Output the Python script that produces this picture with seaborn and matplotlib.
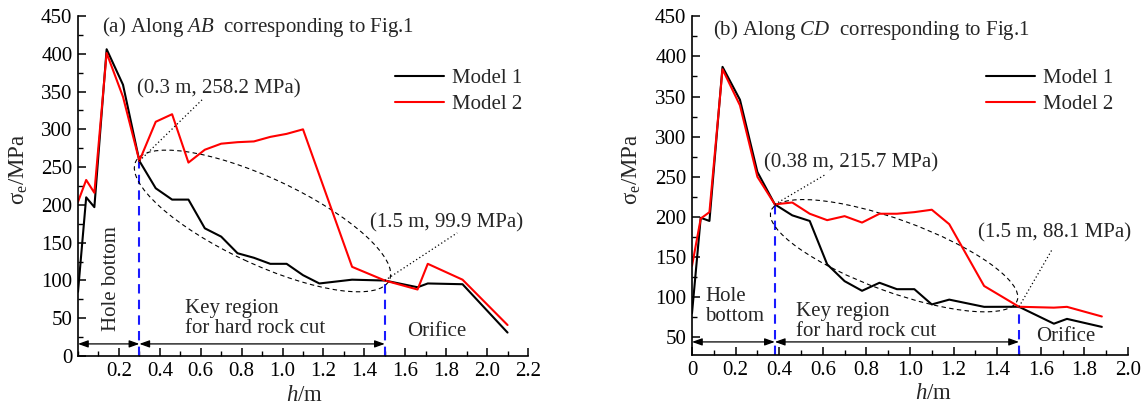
import numpy as np
import pandas as pd
import matplotlib
matplotlib.use("Agg")
import matplotlib.pyplot as plt
import matplotlib.transforms as mtransforms
from matplotlib.patches import Ellipse
from matplotlib.ticker import MultipleLocator, FuncFormatter
import seaborn as sns

# ---- (a) equivalent stress along AB ----
h_ab_m1 = [0, 0.04, 0.08, 0.14, 0.22, 0.30, 0.38, 0.46, 0.54, 0.62, 0.70, 0.78,
           0.86, 0.94, 1.02, 1.10, 1.18, 1.34, 1.50, 1.66, 1.71, 1.88, 2.10]
s_ab_m1 = [85, 210, 197, 406, 359, 258.2, 222, 207, 207, 169, 158, 136,
           130, 122, 122, 107, 96, 101, 99.9, 91, 96, 95, 31]
h_ab_m2 = [0, 0.04, 0.08, 0.14, 0.22, 0.30, 0.38, 0.46, 0.54, 0.62, 0.70, 0.78,
           0.86, 0.94, 1.02, 1.10, 1.34, 1.50, 1.66, 1.71, 1.88, 2.10]
s_ab_m2 = [204, 233, 216, 401, 343, 258.2, 310, 320, 256, 273, 281, 283,
           284, 290, 294, 300, 118, 99.9, 88, 122, 101, 41]

# ---- (b) equivalent stress along CD ----
h_cd = [0, 0.04, 0.08, 0.14, 0.22, 0.30, 0.38, 0.46, 0.54, 0.62, 0.70, 0.78,
        0.86, 0.94, 1.02, 1.10, 1.18, 1.34, 1.50, 1.66, 1.72, 1.88]
s_cd_m1 = [80, 199, 195, 387, 346, 256, 215.7, 202, 195, 141, 120, 108,
           118, 110, 110, 91, 97, 88, 88.1, 67, 73, 63]
s_cd_m2 = [139, 198, 206, 384, 339, 250, 215.7, 218, 204, 196, 201, 193,
           204, 204, 206, 209, 191, 114, 88.1, 87, 88, 76]

models = ["Model 1", "Model 2"]
model_colors = {"Model 1": "#000000", "Model 2": "#ff0000"}

# key points (h, stress) marked on each profile
key_ab = [(0.30, 258.2), (1.50, 99.9)]
key_cd = [(0.38, 215.7), (1.50, 88.1)]

sns.set_theme(style="ticks")
plt.rcParams.update({
    "font.family": ["Liberation Serif", "DejaVu Serif"],
    "mathtext.fontset": "custom",
    "mathtext.rm": "Liberation Serif",
    "mathtext.it": "Liberation Serif:italic",
    "mathtext.bf": "Liberation Serif:bold",
    "axes.linewidth": 1.2,
    "axes.edgecolor": "black",
    "xtick.color": "black",
    "ytick.color": "black",
})

FS = 15
FS_LABEL = 16.5

df_ab = pd.concat([
    pd.DataFrame({"h": h_ab_m1, "s": s_ab_m1, "model": models[0]}),
    pd.DataFrame({"h": h_ab_m2, "s": s_ab_m2, "model": models[1]}),
])
df_cd = pd.concat([
    pd.DataFrame({"h": h_cd, "s": s_cd_m1, "model": models[0]}),
    pd.DataFrame({"h": h_cd, "s": s_cd_m2, "model": models[1]}),
])

W, H = 1148, 405
fig = plt.figure(figsize=(W / 100, H / 100), dpi=100)
ax1 = fig.add_axes([78 / W, 1 - 356 / H, 450 / W, 340 / H])
ax2 = fig.add_axes([692 / W, 1 - 355 / H, 436 / W, 338.7 / H])


def fmt_h(v, pos):
    return "0" if abs(v) < 1e-9 else f"{v:.1f}"


def style_axes(ax, xlim, ylim, xticks, yticks, xlabel_x, ylabel_x):
    ax.set_xlim(*xlim)
    ax.set_ylim(*ylim)
    ax.set_xticks(xticks)
    ax.set_yticks(yticks)
    ax.xaxis.set_minor_locator(MultipleLocator(0.1))
    ax.yaxis.set_minor_locator(MultipleLocator(25))
    ax.xaxis.set_major_formatter(FuncFormatter(fmt_h))
    ax.tick_params(which="major", direction="in", length=6, width=1.1,
                   labelsize=FS, pad=4)
    ax.tick_params(which="minor", direction="in", length=3.5, width=1.0)
    sns.despine(ax=ax)
    ax.set_xlabel("$h$/m", fontsize=FS_LABEL)
    ax.set_ylabel("σ$_{\\mathrm{e}}$/MPa", fontsize=FS_LABEL)
    ax.xaxis.set_label_coords(xlabel_x, -0.115)
    ax.xaxis.label.set_va("center")
    ax.yaxis.set_label_coords(ylabel_x, 0.548)
    ax.yaxis.label.set_va("center")


def draw_panel(ax, df, keys, arrow_y, ybottom, ell, title, title_xy,
               ann_texts, ann_xy, leader_ends, legend_x):
    sns.lineplot(data=df, x="h", y="s", hue="model", palette=model_colors,
                 sort=False, estimator=None, linewidth=1.5, ax=ax)
    # boundaries of the key region
    for (hk, sk) in keys:
        ax.plot([hk, hk], [ybottom, sk], color="#1a1aff", lw=1.5,
                ls=(0, (4.5, 3)), zorder=1)
    # dimension arrows
    x0 = 0.0
    for (hk, _) in keys:
        ax.annotate("", xy=(x0, arrow_y), xytext=(hk, arrow_y),
                    arrowprops=dict(arrowstyle="<|-|>,head_length=0.5,head_width=0.18",
                                    color="black", lw=0.9,
                                    shrinkA=0, shrinkB=0))
        x0 = hk
    # dashed ellipse around the key region
    cx, cy, a, b, ang = ell
    trans = fig.dpi_scale_trans + mtransforms.ScaledTranslation(cx, cy, ax.transData)
    ax.add_patch(Ellipse((0, 0), 2 * a / 100, 2 * b / 100, angle=ang,
                         transform=trans, fill=False, ec="black", lw=0.8,
                         ls=(0, (4, 3))))
    # key point labels with dotted leaders
    for (hk, sk), txt, (tx, ty), (lx, ly) in zip(keys, ann_texts, ann_xy, leader_ends):
        ax.plot([hk, lx], [sk, ly], color="black", lw=0.9, ls=(0, (1, 2)))
        ax.text(tx, ty, txt, fontsize=FS, ha="left", va="center")
    ax.text(title_xy[0], title_xy[1], title, fontsize=FS, ha="left", va="center")
    handles, labels = ax.get_legend_handles_labels()
    ax.legend(handles, labels, loc="upper left", bbox_to_anchor=(legend_x, 0.845),
              frameon=False, fontsize=FS, handlelength=2.35, handletextpad=0.38,
              labelspacing=0.3, borderpad=0, borderaxespad=0)


# ---------- panel (a) ----------
style_axes(ax1, (0, 2.2), (0, 450), np.round(np.arange(1, 12) * 0.2, 1),
           np.arange(0, 451, 50), 0.504, -0.131)
draw_panel(ax1, df_ab, key_ab, 16, 0,
           (0.902, 178.7, 140, 43, -25),
           "(a) Along $AB$  corresponding to Fig.1", (0.115, 436),
           ["(0.3 m, 258.2 MPa)", "(1.5 m, 99.9 MPa)"],
           [(0.288, 353), (1.429, 176.4)],
           [(0.61, 340), (1.854, 163)], 0.704)
ax1.text(0.164, 103, "Hole bottom", rotation=90, fontsize=FS,
         ha="center", va="center")
ax1.text(0.525, 50, "Key region\nfor hard rock cut", fontsize=FS,
         ha="left", va="center", linespacing=1.1)
ax1.text(1.756, 32, "Orifice", fontsize=FS, ha="center", va="center")

# ---------- panel (b) ----------
style_axes(ax2, (0, 2.0), (28, 450), np.round(np.arange(0, 11) * 0.2, 1),
           np.arange(50, 451, 50), 0.553, -0.138)
draw_panel(ax2, df_cd, key_cd, 44.3, 28,
           (0.927, 151.7, 131, 36, -20),
           "(b) Along $CD$  corresponding to Fig.1", (0.098, 432.7),
           ["(0.38 m, 215.7 MPa)", "(1.5 m, 88.1 MPa)"],
           [(0.332, 267), (1.313, 180)],
           [(0.61, 252.5), (1.653, 160)], 0.674)
ax2.text(0.06, 88.8, "Hole\nbottom", fontsize=FS, ha="left", va="center",
         linespacing=1.1)
ax2.text(0.476, 69.9, "Key region\nfor hard rock cut", fontsize=FS,
         ha="left", va="center", linespacing=1.1)
ax2.text(1.713, 51.2, "Orifice", fontsize=FS, ha="center", va="center")

fig.savefig("out.png", dpi=100)
